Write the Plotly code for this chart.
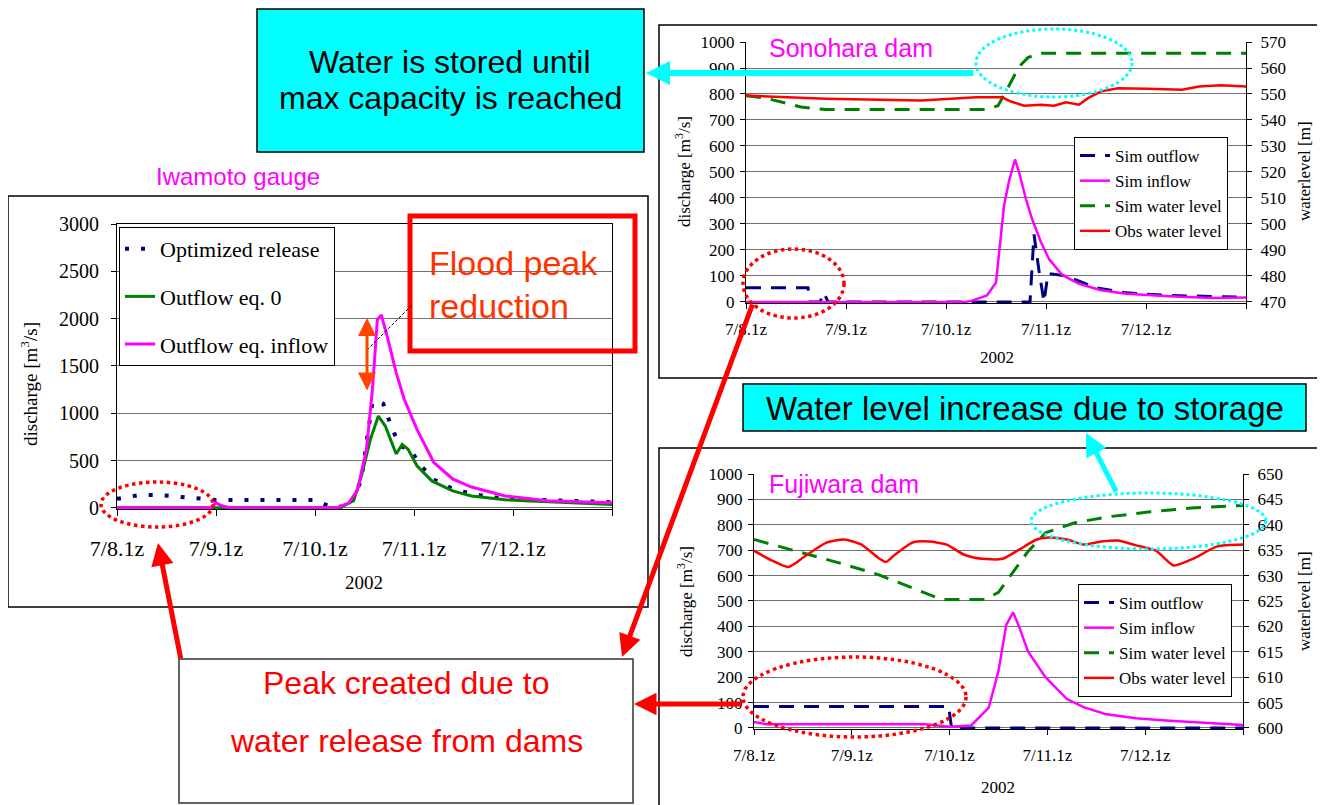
import plotly.graph_objects as go

# The page body has an 8px default margin; the figure is sized and shifted so that
# reference pixel coordinates map onto the browser viewport.
OFF = 8
W, H = 1325 - OFF, 805 - OFF


def px(x):
    return (x - OFF) / W


def py(y):
    return 1 - (y - OFF) / H


# ---------------- data (time in days since 7/8 01z) ----------------
DAY_TICKS = [0, 1, 2, 3, 4, 5]
DAY_LABELS = ["7/8.1z", "7/9.1z", "7/10.1z", "7/11.1z", "7/12.1z", ""]

# Iwamoto gauge discharge [m3/s]
iw_opt_t = [0, 0.22, 0.43, 0.65, 0.84, 1.0, 2.0, 2.17, 2.35, 2.47, 2.52, 2.58, 2.63, 2.69, 2.77, 2.86, 2.96, 3.07, 3.2, 3.39, 3.58, 3.77, 3.98, 4.35, 5.0]
iw_opt_q = [95, 135, 135, 115, 95, 84, 82, 5, 20, 300, 690, 1115, 1130, 1100, 860, 650, 620, 445, 300, 200, 150, 115, 95, 85, 60]

iw_out0_t = [0, 2.25, 2.39, 2.47, 2.56, 2.64, 2.71, 2.82, 2.88, 2.94, 3.03, 3.18, 3.39, 3.58, 3.92, 4.35, 5.0]
iw_out0_q = [0, 0, 75, 340, 725, 970, 865, 570, 670, 620, 445, 285, 180, 125, 85, 63, 35]

iw_infl_t = [0, 0.95, 1.0, 1.05, 1.15, 2.22, 2.34, 2.43, 2.52, 2.58, 2.63, 2.67, 2.73, 2.82, 2.9, 3.03, 3.2, 3.39, 3.58, 3.92, 4.35, 5.0]
iw_infl_q = [0, 0, 55, 25, 0, 0, 50, 190, 620, 1250, 1990, 2040, 1810, 1430, 1150, 830, 480, 305, 220, 125, 75, 55]

# Sonohara dam
so_out_t = [0, 0.62, 0.64, 0.74, 0.78, 0.82, 2.84, 2.88, 2.93, 2.98, 3.02, 3.2, 3.5, 3.8, 4.23, 5.0]
so_out_q = [55, 55, 0, 0, 35, 0, 0, 260, 120, 0, 110, 100, 55, 35, 25, 18]

so_in_t = [0, 2.2, 2.26, 2.41, 2.5, 2.58, 2.63, 2.69, 2.73, 2.8, 2.86, 2.95, 3.03, 3.16, 3.33, 3.55, 3.8, 4.23, 4.66, 5.0]
so_in_q = [0, 0, 5, 25, 75, 370, 465, 548, 500, 395, 320, 230, 165, 105, 70, 45, 32, 22, 15, 17]

so_simwl_t = [0, 0.2, 0.55, 0.8, 2.39, 2.52, 2.6, 2.73, 2.82, 2.93, 5.0]
so_simwl_h = [549.3, 548.4, 545, 544, 544, 545.5, 551, 560.5, 564, 565.7, 565.7]

so_obswl_t = [0, 0.8, 1.75, 2.3, 2.56, 2.65, 2.78, 2.95, 3.08, 3.2, 3.33, 3.42, 3.55, 3.72, 4.02, 4.36, 4.53, 4.75, 5.0]
so_obswl_h = [549.4, 548.2, 547.5, 548.7, 548.7, 547.1, 545.5, 545.9, 545.5, 546.8, 545.9, 548.4, 551, 552.2, 552, 551.6, 552.9, 553.4, 552.9]

# Fujiwara dam
fu_out_t = [0, 1.99, 2.02, 5.0]
fu_out_q = [85, 85, 0, 0]

fu_in_t = [0, 0.12, 1.75, 2.0, 2.22, 2.32, 2.4, 2.5, 2.58, 2.65, 2.71, 2.8, 2.98, 3.2, 3.37, 3.59, 3.9, 4.25, 4.64, 5.0]
fu_in_q = [24, 15, 15, 5, 10, 47, 80, 225, 407, 455, 400, 302, 200, 114, 82, 55, 38, 28, 20, 12]

fu_simwl_t = [0, 0.43, 0.87, 1.27, 1.62, 1.92, 2.36, 2.5, 2.63, 2.8, 2.98, 3.28, 3.63, 4.03, 4.47, 5.0]
fu_simwl_h = [637.1, 634.8, 632.5, 630.2, 627.6, 625.3, 625.3, 626.7, 630.2, 634.7, 638.4, 640.4, 641.6, 642.5, 643.3, 643.8]

fu_obswl_t = [0, 0.17, 0.35, 0.52, 0.74, 0.92, 1.1, 1.27, 1.35, 1.44, 1.62, 1.79, 1.97, 2.15, 2.33, 2.54, 2.71, 2.89, 3.02, 3.2, 3.37, 3.55, 3.72, 3.9, 4.11, 4.29, 4.51, 4.73, 5.0]
fu_obswl_h = [634.9, 633.1, 631.7, 633.8, 636.5, 637.1, 636.1, 633.5, 632.7, 634.1, 636.5, 636.7, 636.1, 634.1, 633.3, 633.3, 635.1, 637.1, 637.5, 637.1, 636.1, 636.7, 636.9, 636.0, 634.9, 632.0, 633.5, 635.7, 636.1]

# ---------------- styles ----------------
NAVY = "#000080"
MAG = "#FF00FF"
GREEN = "#008000"
RED = "#FF0000"
CYAN = "#00FFFF"
SERIF = "Liberation Serif, Times New Roman, serif"
SANS = "Liberation Sans, Arial, sans-serif"
GRID = "#707070"

fig = go.Figure()

# Iwamoto
fig.add_trace(go.Scatter(x=iw_opt_t, y=iw_opt_q, name="Optimized release", mode="lines",
                         line=dict(color=NAVY, width=4, dash="4px,12px"),
                         xaxis="x", yaxis="y", legend="legend", legendgroup="i1"))
fig.add_trace(go.Scatter(x=iw_out0_t, y=iw_out0_q, name="Outflow eq. 0", mode="lines",
                         line=dict(color=GREEN, width=3),
                         xaxis="x", yaxis="y", legend="legend", legendgroup="i2"))
fig.add_trace(go.Scatter(x=iw_infl_t, y=iw_infl_q, name="Outflow eq. inflow", mode="lines",
                         line=dict(color=MAG, width=3),
                         xaxis="x", yaxis="y", legend="legend", legendgroup="i3"))

# Sonohara
fig.add_trace(go.Scatter(x=so_out_t, y=so_out_q, name="Sim outflow", mode="lines",
                         line=dict(color=NAVY, width=3, dash="15px,10px"),
                         xaxis="x2", yaxis="y2", legend="legend2", legendgroup="s1"))
fig.add_trace(go.Scatter(x=so_in_t, y=so_in_q, name="Sim inflow", mode="lines",
                         line=dict(color=MAG, width=2.5),
                         xaxis="x2", yaxis="y2", legend="legend2", legendgroup="s2"))
fig.add_trace(go.Scatter(x=so_simwl_t, y=so_simwl_h, name="Sim water level", mode="lines",
                         line=dict(color=GREEN, width=3, dash="15px,10px"),
                         xaxis="x2", yaxis="y3", legend="legend2", legendgroup="s3"))
fig.add_trace(go.Scatter(x=so_obswl_t, y=so_obswl_h, name="Obs water level", mode="lines",
                         line=dict(color=RED, width=2.5),
                         xaxis="x2", yaxis="y3", legend="legend2", legendgroup="s4"))

# Fujiwara
fig.add_trace(go.Scatter(x=fu_out_t, y=fu_out_q, name="Sim outflow", mode="lines",
                         line=dict(color=NAVY, width=3, dash="15px,10px"),
                         xaxis="x3", yaxis="y4", legend="legend3", legendgroup="f1"))
fig.add_trace(go.Scatter(x=fu_in_t, y=fu_in_q, name="Sim inflow", mode="lines",
                         line=dict(color=MAG, width=2.5),
                         xaxis="x3", yaxis="y4", legend="legend3", legendgroup="f2"))
fig.add_trace(go.Scatter(x=fu_simwl_t, y=fu_simwl_h, name="Sim water level", mode="lines",
                         line=dict(color=GREEN, width=3, dash="15px,10px"),
                         xaxis="x3", yaxis="y5", legend="legend3", legendgroup="f3"))
fig.add_trace(go.Scatter(x=fu_obswl_t, y=fu_obswl_h, name="Obs water level", mode="lines",
                         line=dict(color=RED, width=2.5, shape="spline", smoothing=0.6),
                         xaxis="x3", yaxis="y5", legend="legend3", legendgroup="f4"))


def xax(d0, d1, anchor, fsize, standoff, ticklen):
    return dict(domain=[px(d0), px(d1)], anchor=anchor, range=[0, 5], automargin=False,
                tickvals=DAY_TICKS, ticktext=DAY_LABELS, ticks="outside", ticklen=ticklen,
                tickcolor="black", showline=True, linecolor="black", linewidth=1,
                showgrid=False, zeroline=False, tickfont=dict(family=SERIF, size=fsize, color="black"),
                ticklabelstandoff=standoff)


def yax(top, bottom, anchor, rng, dtick, fsize, standoff, grid=True, side="left", overlaying=None):
    d = dict(anchor=anchor, range=rng, dtick=dtick, tick0=0, ticks="outside", ticklen=5,
             automargin=False,
             tickcolor="black", showline=True, linecolor="black", linewidth=1,
             showgrid=grid, gridcolor=GRID, gridwidth=1, zeroline=False, side=side,
             tickfont=dict(family=SERIF, size=fsize, color="black"), ticklabelstandoff=standoff)
    if overlaying:
        d["overlaying"] = overlaying
    else:
        d["domain"] = [py(bottom), py(top)]
    return d


xa1 = xax(117, 612, "y", 22, 14, 6)
xa1["mirror"] = True
ya1 = yax(224, 509, "x", [-12, 3000], 500, 20, 8)
ya1["mirror"] = True

xa2 = xax(746, 1246, "y2", 17, 6, 5)
ya2 = yax(42, 303, "x2", [-4, 1000], 100, 17, 2)
ya3 = yax(42, 303, "x2", [469.6, 570], 10, 17, 5, grid=False, side="right", overlaying="y2")
ya3["tick0"] = 470

xa3 = xax(754, 1243, "y4", 17, 6, 5)
ya4 = yax(474, 729, "x3", [-4, 1000], 100, 17, 2)
ya5 = yax(474, 729, "x3", [599.8, 650], 5, 17, 5, grid=False, side="right", overlaying="y4")
ya5["tick0"] = 600

# ---------------- shapes ----------------
def rect(x0, y0, x1, y1, color="black", width=1.5, fill=None, layer="above", dash=None):
    line = dict(color=color, width=width)
    if dash:
        line["dash"] = dash
    return dict(type="rect", xref="paper", yref="paper", x0=px(x0), x1=px(x1), y0=py(y1), y1=py(y0),
                line=line, fillcolor=fill if fill else "rgba(0,0,0,0)", layer=layer)


def ellipse(x0, y0, x1, y1, color, width=3.5):
    return dict(type="circle", xref="paper", yref="paper", x0=px(x0), x1=px(x1), y0=py(y1), y1=py(y0),
                line=dict(color=color, width=width, dash="dot"), fillcolor="rgba(0,0,0,0)", layer="above")


shapes = [
    rect(8, 196, 648, 607, layer="below"),
    rect(659, 25, 1320, 378, layer="below"),
    rect(659, 448, 1320, 812, layer="below"),
    rect(257, 9, 644, 152, fill=CYAN),
    rect(743, 384, 1306, 431, fill=CYAN),
    rect(179, 659, 633, 803, fill="white", color="#333333"),
    rect(410, 216, 635, 351, color=RED, width=5),
    dict(type="line", xref="paper", yref="paper", x0=px(367), y0=py(350), x1=px(412), y1=py(305),
         line=dict(color="black", width=1, dash="3px,2px"), layer="above"),
    ellipse(101, 482, 213, 527, RED),
    ellipse(743, 249, 844, 318, RED),
    ellipse(743, 657, 966, 737, RED),
    ellipse(976, 29, 1132, 97, CYAN, 3),
    ellipse(1031, 493, 1266, 549, CYAN, 3),
]

# ---------------- annotations ----------------
def text(x, y, s, size, color="black", family=SANS, xanchor="center", angle=0):
    return dict(x=px(x), y=py(y), xref="paper", yref="paper", text=s, showarrow=False,
                font=dict(family=family, size=size, color=color), xanchor=xanchor, yanchor="middle",
                textangle=angle)


def arrow(tipx, tipy, tailx, taily, color, width, side="end", size=0.9):
    return dict(x=px(tipx), y=py(tipy), xref="paper", yref="paper", text="", showarrow=True,
                ax=tailx - tipx, ay=taily - tipy, axref="pixel", ayref="pixel",
                arrowcolor=color, arrowwidth=width, arrowhead=2, arrowsize=size, arrowside=side,
                standoff=0, startstandoff=0)


disch = "discharge [m<sup>3</sup>/s]"
annotations = [
    text(450, 62, "Water is stored until", 32),
    text(450, 98, "max capacity is reached", 32),
    text(1025, 408, "Water level increase due to storage", 33),
    text(406, 683, "Peak created due to", 32, RED),
    text(406, 741, "water release from dams", 32, RED),
    text(427, 263, "Flood peak", 34, "#FF3300", xanchor="left"),
    text(427, 306, "reduction", 34, "#FF3300", xanchor="left"),
    text(238, 176, "Iwamoto gauge", 24, MAG),
    text(767, 48, "Sonohara dam", 25, MAG, xanchor="left"),
    text(767, 484, "Fujiwara dam", 25, MAG, xanchor="left"),
    # axis titles
    text(29, 384, disch, 19, family=SERIF, angle=-90),
    text(364, 582, "2002", 19, family=SERIF),
    text(683, 172, disch, 17, family=SERIF, angle=-90),
    text(1304, 171, "waterlevel [m]", 17, family=SERIF, angle=-90),
    text(997, 357, "2002", 17, family=SERIF),
    text(685, 602, disch, 17, family=SERIF, angle=-90),
    text(1304, 601, "waterlevel [m]", 17, family=SERIF, angle=-90),
    text(998, 787, "2002", 17, family=SERIF),
    # arrows
    arrow(646, 73, 975, 73, CYAN, 6, size=0.8),
    arrow(1086, 433, 1117, 493, CYAN, 5, size=0.9),
    arrow(158, 543, 181, 660, RED, 5, size=0.9),
    arrow(622, 657, 753, 303, RED, 5, size=0.9),
    arrow(634, 704, 743, 704, RED, 5, size=0.9),
    arrow(367, 318, 367, 392, "#FF4500", 3, side="end+start", size=1.2),
]

legend_common = dict(bgcolor="white", bordercolor="black", borderwidth=1,
                     xanchor="left", yanchor="top", orientation="v")

fig.update_layout(
    width=W, height=H, autosize=False,
    margin=dict(l=0, r=0, t=0, b=0, pad=0, autoexpand=False),
    paper_bgcolor="white", plot_bgcolor="rgba(0,0,0,0)",
    xaxis=xa1, yaxis=ya1,
    xaxis2=xa2, yaxis2=ya2, yaxis3=ya3,
    xaxis3=xa3, yaxis4=ya4, yaxis5=ya5,
    legend=dict(x=px(119), y=py(227), font=dict(family=SERIF, size=22, color="black"),
                tracegroupgap=16, **legend_common),
    legend2=dict(x=px(1074), y=py(137), font=dict(family=SERIF, size=17, color="black"),
                 tracegroupgap=0, **legend_common),
    legend3=dict(x=px(1078), y=py(584), font=dict(family=SERIF, size=17, color="black"),
                 tracegroupgap=0, **legend_common),
    shapes=shapes,
    annotations=annotations,
    showlegend=True,
)

fig.write_html("out.html")
